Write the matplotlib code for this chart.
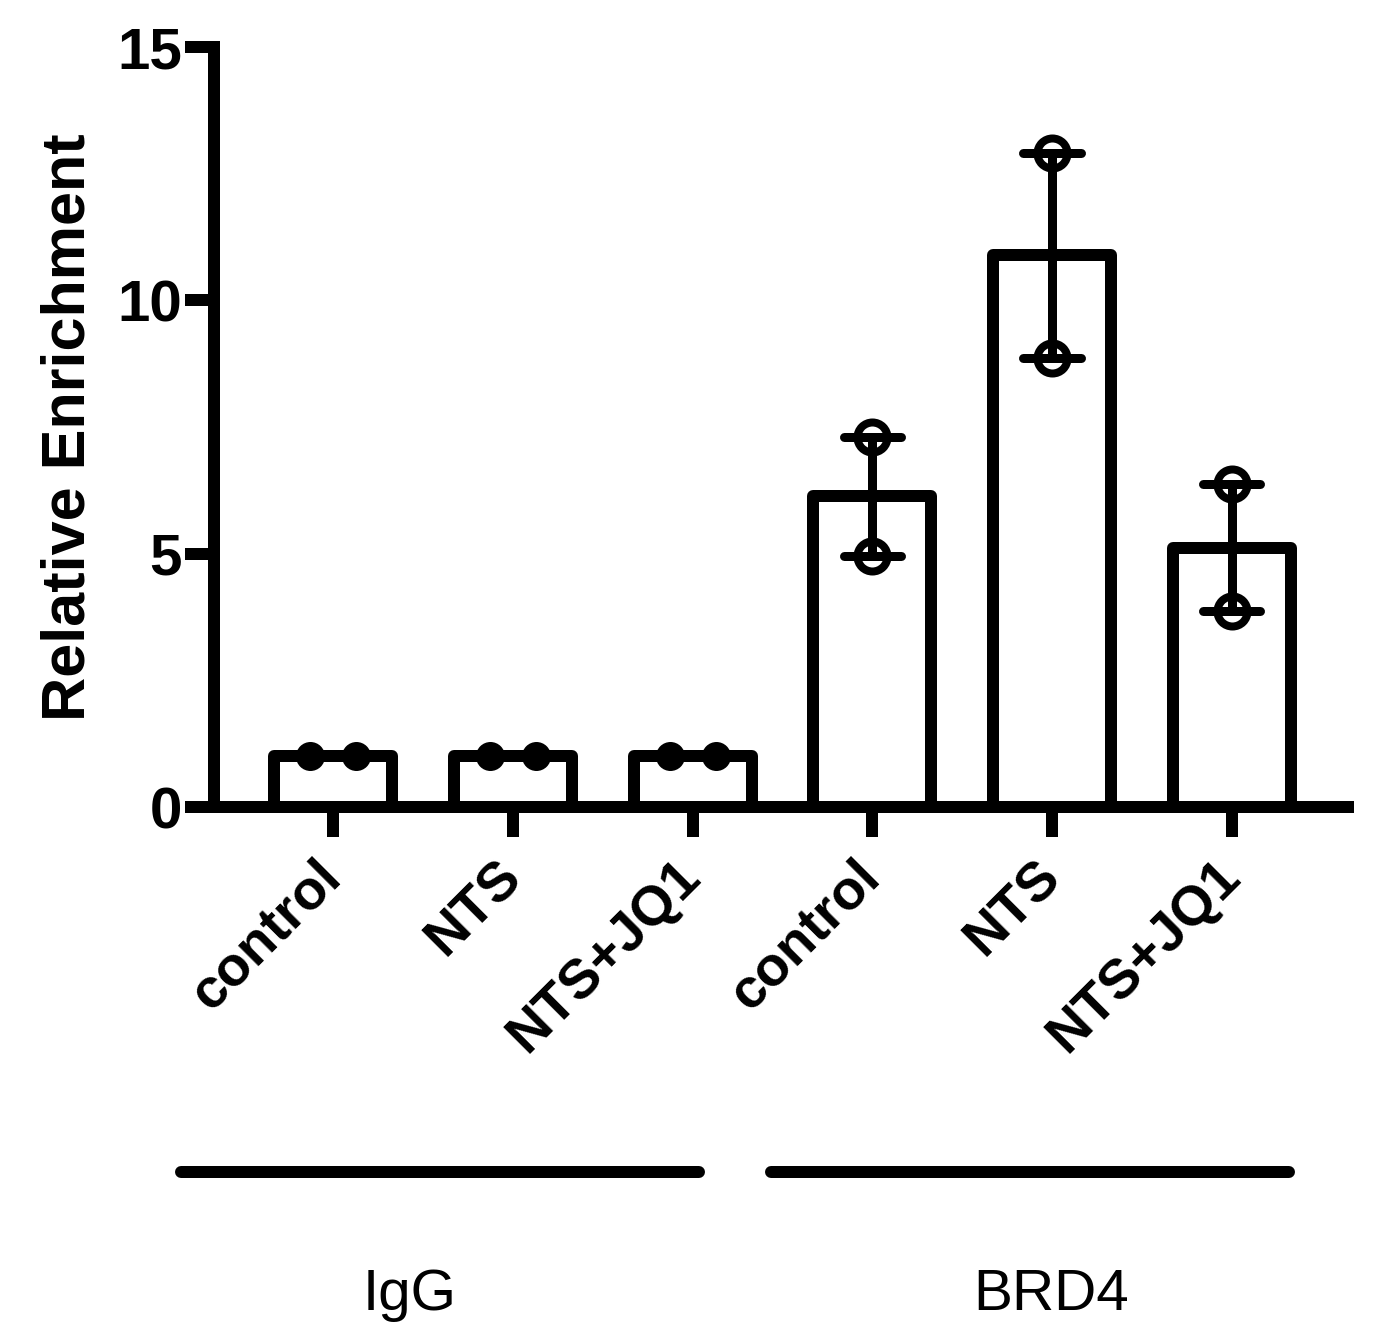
import numpy as np
import matplotlib.pyplot as plt
from matplotlib.lines import Line2D

plt.rcParams['font.family'] = ['Liberation Sans', 'DejaVu Sans']

# data
conditions = ['control', 'NTS', 'NTS+JQ1', 'control', 'NTS', 'NTS+JQ1']
groups = ['IgG', 'BRD4']
igg_reps = [[1.0, 1.0], [1.0, 1.0], [1.0, 1.0]]
brd4_reps = [[7.31, 4.96], [12.91, 8.87], [6.37, 3.87]]
yticks = [0, 5, 10, 15]

PT = 0.72  # points per pixel at dpi 100

fig = plt.figure(figsize=(13.75, 13.35), dpi=100)
ax = fig.add_axes([214 / 1375, 1 - 807 / 1335, 1134 / 1375, 760 / 1335])

reps = igg_reps + brd4_reps
x = np.arange(len(reps))
means = [np.mean(r) for r in reps]

ax.bar(x, means, width=0.658, color='white', edgecolor='black',
       linewidth=12 * PT, joinstyle='round', zorder=2)

cap = 0.16
for i, r in enumerate(reps):
    lo, hi = min(r), max(r)
    if hi > lo:
        ax.plot([i, i], [lo, hi], color='black', lw=9 * PT,
                solid_capstyle='butt', zorder=3)
        for v in (lo, hi):
            ax.plot([i - cap, i + cap], [v, v], color='black', lw=9 * PT,
                    solid_capstyle='round', zorder=3)

# points: IgG filled (tied values spread sideways), BRD4 open
for i, r in enumerate(reps):
    if i < len(igg_reps):
        offs = np.array([-0.128, 0.128]) if r[0] == r[1] else np.zeros(2)
        ax.plot(i + offs, r, 'o', color='black', ms=29 * PT, mew=0, zorder=4)
    else:
        ax.plot([i] * len(r), r, 'o', mfc='none', mec='black',
                ms=30 * PT, mew=8 * PT, zorder=4)

ax.set_xlim(-0.664, 5.647)
ax.set_ylim(0, 15)
ax.set_yticks(yticks)
ax.set_yticklabels([str(t) for t in yticks], fontsize=42, fontweight='bold')
ax.set_xticks(x)
ax.set_xticklabels(conditions, fontsize=40, fontweight='bold', rotation=45,
                   ha='right', va='center', rotation_mode='anchor')

for s in ['top', 'right']:
    ax.spines[s].set_visible(False)
for s in ['left', 'bottom']:
    ax.spines[s].set_linewidth(12 * PT)
    ax.spines[s].set_capstyle('projecting')

ax.tick_params(axis='y', length=29 * PT, width=12 * PT, pad=2)
ax.tick_params(axis='x', length=30 * PT, width=12 * PT, pad=23)

ax.set_ylabel('Relative Enrichment', fontsize=44, fontweight='bold')
ax.yaxis.set_label_coords(-0.103, 0.5)

# group bars and labels under the axis
group_spans = [(181, 699), (771, 1289)]
group_label_x = [410, 1051]
for (x0, x1), name, lx in zip(group_spans, groups, group_label_x):
    fig.add_artist(Line2D([x0 / 1375, x1 / 1375], [1 - 1172 / 1335] * 2,
                          color='black', lw=12 * PT, solid_capstyle='round'))
    fig.text(lx / 1375, 1 - 1310 / 1335, name, fontsize=42,
             ha='center', va='baseline')

fig.savefig('out.png', dpi=100)
